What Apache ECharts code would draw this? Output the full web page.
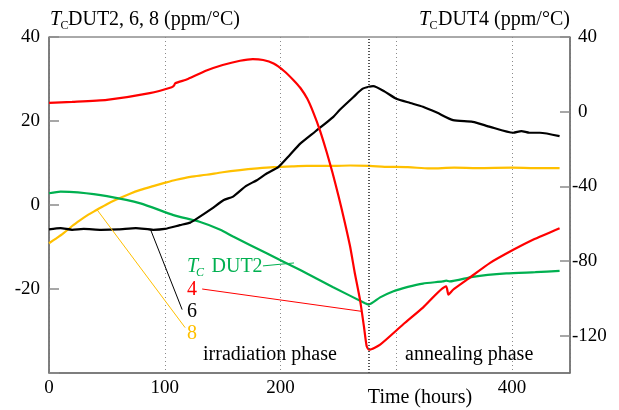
<!DOCTYPE html>
<html><head><meta charset="utf-8">
<script src="https://cdn.jsdelivr.net/npm/echarts@6/dist/echarts.min.js"></script>
<style>html,body{margin:0;padding:0;background:#fff}#c{width:619px;height:410px}</style>
</head><body><div id="c"></div><script>
// ---- data (hours, ppm/°C) ----
const dut2Time = [0, 10, 25, 50, 79, 107.5, 130, 148, 159, 188, 217, 245, 273, 276, 286, 297, 310, 323, 340, 343, 346, 366, 395, 420, 441];
const dut2Val  = [2.8, 3.2, 3.0, 2.1, 0.4, -2.4, -4.0, -5.9, -7.5, -11.5, -15.5, -19.5, -23.4, -23.7, -22.0, -20.6, -19.5, -18.7, -18.2, -18.0, -18.2, -17.1, -16.3, -16.0, -15.7];

const dut6Time = [0, 10, 20, 30, 45, 60, 75, 90, 100, 113, 122, 128, 140, 151, 159, 170, 179.5, 188, 198, 208, 217, 230, 245.6, 251, 263, 271, 280, 290, 300, 312, 323, 335, 349, 366, 381, 401, 408, 415, 424, 441];
const dut6Val  = [-5.8, -5.5, -5.9, -5.7, -5.9, -5.8, -5.5, -5.9, -5.7, -4.8, -4.2, -3.2, -1.0, 1.2, 2.0, 4.5, 5.9, 7.5, 9.0, 11.9, 14.6, 17.5, 21.0, 22.6, 25.7, 27.7, 28.3, 27.0, 25.3, 24.3, 23.4, 22.0, 20.2, 19.8, 18.6, 17.2, 17.6, 17.2, 17.2, 16.4];

const dut8Time = [0, 6, 12.6, 20, 27, 34, 41, 50, 58.7, 70, 79, 90, 99, 110, 122, 136, 150, 165, 180, 194, 210, 222.6, 245.6, 260, 277, 290, 310, 329, 350, 370, 400, 420, 441];
const dut8Val  = [-9.1, -8.0, -6.7, -5.0, -3.6, -2.3, -1.2, 0.2, 1.35, 2.7, 3.6, 4.5, 5.2, 6.0, 6.7, 7.2, 7.8, 8.3, 8.7, 9.0, 9.2, 9.3, 9.3, 9.4, 9.3, 9.1, 9.0, 8.7, 8.9, 8.8, 8.9, 8.8, 8.8];

const dut4Time = [0, 20, 50, 87, 106, 108, 109, 120, 136, 150, 165, 176, 185, 194, 203, 211, 217, 223, 228, 234, 240, 245, 250, 255, 260, 264, 268.6, 272, 274.4, 276.6, 286, 306, 323, 343, 345, 349, 361, 381, 401, 418, 441];
const dut4Val  = [4.7, 5.2, 6.3, 9.9, 13.1, 14.0, 15.2, 17.5, 22.0, 25.0, 27.3, 28.2, 27.7, 25.8, 21.8, 17.0, 12.8, 7.0, 0.0, -10.0, -22.0, -33.0, -45.0, -58.0, -72.0, -86.0, -100.7, -115.0, -125.7, -127.5, -124.8, -113.9, -105.0, -93.6, -98.0, -95.4, -90.0, -81.0, -74.0, -68.6, -62.4];

const xTicks = [0, 100, 200, 400];
const leftTicks = [40, 20, 0, -20];
const rightTicks = [-120, -80, -40, 0, 40];
const irradiationEnd = 276;

const zip = (a, b) => a.map((t, i) => [t, b[i]]);
const C = { red: '#ff0000', green: '#00b050', black: '#000000', orange: '#ffc000' };
const FONT = 'Liberation Serif, Times New Roman, serif';

const chart = echarts.init(document.getElementById('c'), null, { renderer: 'canvas' });
const axisLine = { show: true, onZero: false, lineStyle: { color: '#707070', width: 1.5 } };

chart.setOption({
  animation: false,
  backgroundColor: '#fff',
  grid: { left: 49, right: 49, top: 37, bottom: 37, show: true, borderColor: '#555', borderWidth: 1 },
  xAxis: {
    type: 'value', min: 0, max: 450, interval: 100,
    axisLine: axisLine, axisTick: { show: false },
    axisLabel: { margin: 6, fontFamily: FONT, fontSize: 19, color: '#000',
      formatter: v => xTicks.includes(v) ? String(v) : '' },
    splitLine: { show: true, lineStyle: { color: '#8a8a8a', type: [1, 3], width: 1 } }
  },
  yAxis: [
    { type: 'value', min: -40, max: 40, interval: 20, position: 'left',
      axisLine: axisLine,
      axisTick: { show: true, inside: true, length: 10, lineStyle: { color: '#8a8a8a', width: 1.5 } },
      axisLabel: { margin: 9, fontFamily: FONT, fontSize: 19, color: '#000',
        formatter: v => leftTicks.includes(v) ? String(v) : '' },
      splitLine: { show: false } },
    { type: 'value', min: -140, max: 40, position: 'right',
      axisLine: axisLine,
      axisTick: { show: true, inside: true, length: 10, customValues: rightTicks, lineStyle: { color: '#8a8a8a', width: 1.5 } },
      axisLabel: { margin: 2, fontFamily: FONT, fontSize: 19, color: '#000', customValues: rightTicks,
        formatter: v => rightTicks.includes(v) ? (v < 0 ? String(v) : '{p|' + v + '}') : '',
        rich: { p: { padding: [0, 0, 0, 6], fontFamily: FONT, fontSize: 19, color: '#000' } } },
      splitLine: { show: false } }
  ],
  series: [
    { name: 'DUT8', type: 'line', yAxisIndex: 0, data: zip(dut8Time, dut8Val), showSymbol: false, smooth: 0.3,
      lineStyle: { color: C.orange, width: 2.2 }, itemStyle: { color: C.orange },
      markLine: { silent: true, symbol: 'none', label: { show: false },
        lineStyle: { color: '#555', type: [1, 2], width: 2 }, data: [{ xAxis: irradiationEnd }] } },
    { name: 'DUT2', type: 'line', yAxisIndex: 0, data: zip(dut2Time, dut2Val), showSymbol: false, smooth: 0.2,
      lineStyle: { color: C.green, width: 2.2 }, itemStyle: { color: C.green } },
    { name: 'DUT6', type: 'line', yAxisIndex: 0, data: zip(dut6Time, dut6Val), showSymbol: false, smooth: 0.2,
      lineStyle: { color: C.black, width: 2.2 }, itemStyle: { color: C.black } },
    { name: 'DUT4', type: 'line', yAxisIndex: 1, data: zip(dut4Time, dut4Val), showSymbol: false, smooth: 0.2,
      lineStyle: { color: C.red, width: 2.2 }, itemStyle: { color: C.red } }
  ]
});

// annotations: leader lines in data space (left axis)
const leaders = [
  { color: C.black, from: [87.5, -5.7], to: [115, -24.9] },
  { color: C.orange, from: [41.7, -1.2], to: [117.6, -29.2] },
  { color: C.red, from: [132.3, -20.0], to: [269.5, -25.3] },
  { color: C.green, from: [184.8, -14.5], to: [211.6, -13.8] }
];
const px = p => chart.convertToPixel({ xAxisIndex: 0, yAxisIndex: 0 }, p);
const txt = (text, x, y, o) => ({ type: 'text', x: x, y: y, z: 100,
  style: Object.assign({ text: text, fontFamily: FONT, fontSize: 20, fill: '#000', align: 'left', verticalAlign: 'middle' }, o || {}) });

const g = [];
leaders.forEach(l => {
  const a = px(l.from), b = px(l.to);
  g.push({ type: 'line', z: 90, shape: { x1: a[0], y1: a[1], x2: b[0], y2: b[1] }, style: { stroke: l.color, lineWidth: 1 } });
});
// axis titles
g.push(txt('T', 50, 19.5, { fontStyle: 'italic' }));
g.push(txt('C', 60.5, 25.5, { fontSize: 12 }));
g.push(txt('DUT2, 6, 8 (ppm/°C)', 68, 19.5));
g.push(txt('T', 419, 19.5, { fontStyle: 'italic' }));
g.push(txt('C', 429.5, 25.5, { fontSize: 12 }));
g.push(txt('DUT4 (ppm/°C)', 438, 19.5));
// in-plot labels
g.push(txt('T', 187, 266.5, { fontStyle: 'italic', fill: C.green }));
g.push(txt('C', 196, 272.5, { fontSize: 12, fontStyle: 'italic', fill: C.green }));
g.push(txt('DUT2', 211.5, 266.5, { fill: C.green }));
g.push(txt('4', 187, 290, { fill: C.red }));
g.push(txt('6', 187, 312, { fill: C.black }));
g.push(txt('8', 187, 334, { fill: C.orange }));
g.push(txt('irradiation phase', 203, 355));
g.push(txt('annealing phase', 405, 354.5));
g.push(txt('Time (hours)', 420, 398, { align: 'center' }));
chart.setOption({ graphic: g });
</script></body></html>
